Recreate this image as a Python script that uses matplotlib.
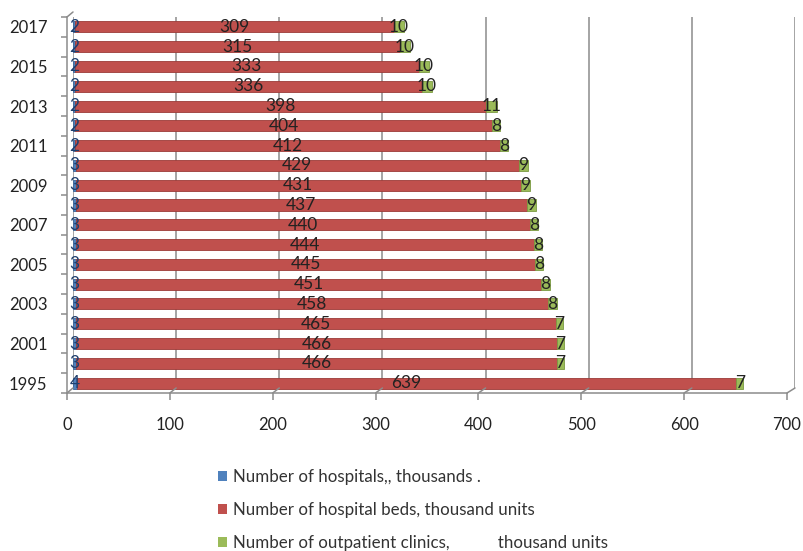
import matplotlib as mpl
mpl.use('Agg')
import matplotlib.pyplot as plt
from matplotlib.patches import Patch, ConnectionPatch
from matplotlib.transforms import offset_copy

plt.rcParams['font.family'] = ['Lato', 'DejaVu Sans']

# data, bottom row first
years = ['1995', '2000', '2001', '2002', '2003', '2004', '2005', '2006', '2007',
         '2008', '2009', '2010', '2011', '2012', '2013', '2014', '2015', '2016', '2017']
hospitals = [4, 3, 3, 3, 3, 3, 3, 3, 3, 3, 3, 3, 2, 2, 2, 2, 2, 2, 2]
beds = [639, 466, 466, 465, 458, 451, 445, 444, 440, 437, 431, 429, 412, 404, 398, 336, 333, 315, 309]
clinics = [7, 7, 7, 7, 8, 8, 8, 8, 8, 9, 9, 9, 8, 8, 11, 10, 10, 10, 10]

names = ['Number of hospitals,, thousands .',
         'Number of hospital beds, thousand units',
         'Number of outpatient clinics,           thousand units']
colors = ['#4F81BD', '#C0504D', '#9BBB59']
edges = ['#3A6496', '#9C3B38', '#7A9A41']
grey = '#8C8C8C'

W, H = 804, 551
fig = plt.figure(figsize=(W / 100, H / 100), dpi=100)

# front frame (floor + left edge), shifted down-left of the back wall
floor = fig.add_axes([67 / W, 158 / H, 720 / W, 376 / H])
# back wall holding the bars
ax = fig.add_axes([73 / W, 158 / H, 722 / W, 376 / H])
ax.patch.set_visible(False)

n = len(years)
ylo, yhi = -0.5, n - 0.5
xticks = list(range(0, 701, 100))

for a in (floor, ax):
    a.set_xlim(0, 700)
    a.set_ylim(ylo, yhi)

floor.spines['top'].set_visible(False)
floor.spines['right'].set_visible(False)
for s in ('left', 'bottom'):
    floor.spines[s].set_color(grey)
    floor.spines[s].set_linewidth(1.1)
floor.set_xticks(xticks)
floor.set_xticklabels([str(t) for t in xticks], fontsize=12, color='#222222')
floor.tick_params(axis='x', length=5, width=1.1, color=grey, pad=12)
floor.set_yticks(range(0, n, 2))
floor.set_yticklabels(years[::2], fontsize=12, color='#222222')
floor.set_yticks([i - 0.5 for i in range(n + 1)], minor=True)
floor.tick_params(axis='y', which='major', length=0, pad=14)
floor.tick_params(axis='y', which='minor', length=4.5, width=1.1, color=grey)

ax.axis('off')

# back wall gridlines, raised a few pixels
back = offset_copy(ax.transData, fig=fig, x=0, y=5, units='dots')
ax.vlines(xticks, ylo, yhi, colors=grey, linewidth=1.1, transform=back, zorder=0)

# depth connectors between front frame and back wall
for t in xticks:
    con = ConnectionPatch(xyA=(t, ylo), coordsA=floor.transData,
                          xyB=(t, ylo), coordsB=back, color=grey, linewidth=1.1)
    fig.add_artist(con)
con = ConnectionPatch(xyA=(0, yhi), coordsA=floor.transData,
                      xyB=(0, yhi), coordsB=back, color=grey, linewidth=1.1)
fig.add_artist(con)

ypos = list(range(n))
left = [0] * n
series = [hospitals, beds, clinics]
label_colors = ['#1F3F6E', '#222222', '#222222']
for vals, c, ec, lc in zip(series, colors, edges, label_colors):
    bars = ax.barh(ypos, vals, left=left, height=0.56, color=c, edgecolor=ec,
                   linewidth=0.6, zorder=2)
    ax.bar_label(bars, labels=[str(v) for v in vals], label_type='center',
                 fontsize=12.5, color=lc, zorder=3)
    left = [l + v for l, v in zip(left, vals)]

handles = [Patch(facecolor=c, edgecolor='none') for c in colors]
fig.legend(handles, names, loc='upper left', bbox_to_anchor=(203 / W, 1 - 454 / H),
           frameon=False, fontsize=12.2, handlelength=0.5, handleheight=0.5,
           handletextpad=0.4, labelspacing=1.0, labelcolor='#333333')

fig.savefig('out.png', dpi=100)
